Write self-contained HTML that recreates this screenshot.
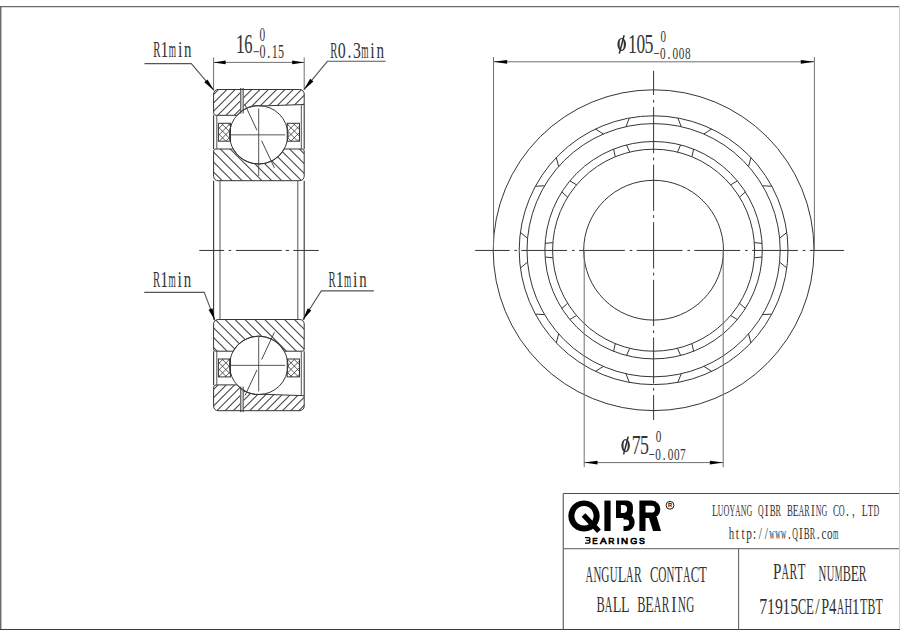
<!DOCTYPE html><html><head><meta charset="utf-8"><style>html,body{margin:0;padding:0;background:#fff;}svg{display:block;}</style></head><body><svg width="900" height="636" viewBox="0 0 900 636"><rect width="900" height="636" fill="#fff"/><defs><clipPath id="cot"><path d="M213.6,94 A4.5,4.5 0 0 1 218.1,89.5 L299.7,89.5 A4.5,4.5 0 0 1 304.2,94 L304.2,104.5 L262.87,105.95 A29.2,29.2 0 0 0 237.01,115.3 L216.1,115.3 A2.5,2.5 0 0 1 213.6,112.8 Z"/></clipPath><clipPath id="cit"><path d="M213.6,151 A2,2 0 0 1 215.6,149 L233.16,149 A29.2,29.2 0 0 0 284.24,149 L302.2,149 A2,2 0 0 1 304.2,151 L304.2,176.2 A4.5,4.5 0 0 1 299.7,180.7 L218.1,180.7 A4.5,4.5 0 0 1 213.6,176.2 Z"/></clipPath><clipPath id="pkt218"><rect x="218.4" y="123.3" width="12.1" height="17.9"/></clipPath><clipPath id="pkt287"><rect x="287.2" y="123.3" width="12.3" height="17.9"/></clipPath><clipPath id="cob"><path d="M213.6,406.2 A4.5,4.5 0 0 0 218.1,410.7 L299.7,410.7 A4.5,4.5 0 0 0 304.2,406.2 L304.2,395.7 L262.87,394.25 A29.2,29.2 0 0 1 237.01,384.9 L216.1,384.9 A2.5,2.5 0 0 0 213.6,387.4 Z"/></clipPath><clipPath id="cib"><path d="M213.6,349.2 A2,2 0 0 0 215.6,351.2 L233.16,351.2 A29.2,29.2 0 0 1 284.24,351.2 L302.2,351.2 A2,2 0 0 0 304.2,349.2 L304.2,324 A4.5,4.5 0 0 0 299.7,319.5 L218.1,319.5 A4.5,4.5 0 0 0 213.6,324 Z"/></clipPath><clipPath id="pkb218"><rect x="218.4" y="359" width="12.1" height="17.9"/></clipPath><clipPath id="pkb287"><rect x="287.2" y="359" width="12.3" height="17.9"/></clipPath></defs><line x1="0" y1="6.7" x2="900" y2="6.7" stroke="#6a6a6a" stroke-width="1.2"/><line x1="0.7" y1="6.1" x2="0.7" y2="629.5" stroke="#6c6c6c" stroke-width="1.5"/><line x1="899.5" y1="6.1" x2="899.5" y2="629" stroke="#cfcfcf" stroke-width="1"/><line x1="0" y1="629.5" x2="900" y2="629.5" stroke="#3a3a3a" stroke-width="1.2"/><g clip-path="url(#cot)"><line x1="198.2" y1="85" x2="163.2" y2="120" stroke="#454545" stroke-width="1.05"/><line x1="206.5" y1="85" x2="171.5" y2="120" stroke="#454545" stroke-width="1.05"/><line x1="214.8" y1="85" x2="179.8" y2="120" stroke="#454545" stroke-width="1.05"/><line x1="223.1" y1="85" x2="188.1" y2="120" stroke="#454545" stroke-width="1.05"/><line x1="231.4" y1="85" x2="196.4" y2="120" stroke="#454545" stroke-width="1.05"/><line x1="239.7" y1="85" x2="204.7" y2="120" stroke="#454545" stroke-width="1.05"/><line x1="248" y1="85" x2="213" y2="120" stroke="#454545" stroke-width="1.05"/><line x1="256.3" y1="85" x2="221.3" y2="120" stroke="#454545" stroke-width="1.05"/><line x1="264.6" y1="85" x2="229.6" y2="120" stroke="#454545" stroke-width="1.05"/><line x1="272.9" y1="85" x2="237.9" y2="120" stroke="#454545" stroke-width="1.05"/><line x1="281.2" y1="85" x2="246.2" y2="120" stroke="#454545" stroke-width="1.05"/><line x1="289.5" y1="85" x2="254.5" y2="120" stroke="#454545" stroke-width="1.05"/><line x1="297.8" y1="85" x2="262.8" y2="120" stroke="#454545" stroke-width="1.05"/><line x1="306.1" y1="85" x2="271.1" y2="120" stroke="#454545" stroke-width="1.05"/><line x1="314.4" y1="85" x2="279.4" y2="120" stroke="#454545" stroke-width="1.05"/><line x1="322.7" y1="85" x2="287.7" y2="120" stroke="#454545" stroke-width="1.05"/><line x1="331" y1="85" x2="296" y2="120" stroke="#454545" stroke-width="1.05"/><line x1="339.3" y1="85" x2="304.3" y2="120" stroke="#454545" stroke-width="1.05"/></g><g clip-path="url(#cit)"><line x1="315.3" y1="145" x2="355.3" y2="185" stroke="#454545" stroke-width="1.05"/><line x1="305.4" y1="145" x2="345.4" y2="185" stroke="#454545" stroke-width="1.05"/><line x1="295.5" y1="145" x2="335.5" y2="185" stroke="#454545" stroke-width="1.05"/><line x1="285.6" y1="145" x2="325.6" y2="185" stroke="#454545" stroke-width="1.05"/><line x1="275.7" y1="145" x2="315.7" y2="185" stroke="#454545" stroke-width="1.05"/><line x1="265.8" y1="145" x2="305.8" y2="185" stroke="#454545" stroke-width="1.05"/><line x1="255.9" y1="145" x2="295.9" y2="185" stroke="#454545" stroke-width="1.05"/><line x1="246" y1="145" x2="286" y2="185" stroke="#454545" stroke-width="1.05"/><line x1="236.1" y1="145" x2="276.1" y2="185" stroke="#454545" stroke-width="1.05"/><line x1="226.2" y1="145" x2="266.2" y2="185" stroke="#454545" stroke-width="1.05"/><line x1="216.3" y1="145" x2="256.3" y2="185" stroke="#454545" stroke-width="1.05"/><line x1="206.4" y1="145" x2="246.4" y2="185" stroke="#454545" stroke-width="1.05"/><line x1="196.5" y1="145" x2="236.5" y2="185" stroke="#454545" stroke-width="1.05"/><line x1="186.6" y1="145" x2="226.6" y2="185" stroke="#454545" stroke-width="1.05"/><line x1="176.7" y1="145" x2="216.7" y2="185" stroke="#454545" stroke-width="1.05"/><line x1="166.8" y1="145" x2="206.8" y2="185" stroke="#454545" stroke-width="1.05"/></g><rect x="240.3" y="88" width="3.2" height="25.5" fill="#fff"/><rect x="240.3" y="88" width="3.2" height="25.5" fill="#c8c8c8"/><line x1="240.6" y1="88" x2="240.6" y2="113.5" stroke="#555" stroke-width="0.9"/><line x1="243.3" y1="88" x2="243.3" y2="113.5" stroke="#555" stroke-width="0.9"/><path d="M213.6,94 A4.5,4.5 0 0 1 218.1,89.5 L299.7,89.5 A4.5,4.5 0 0 1 304.2,94 L304.2,104.5 L262.87,105.95 A29.2,29.2 0 0 0 237.01,115.3 L216.1,115.3 A2.5,2.5 0 0 1 213.6,112.8 Z" fill="none" stroke="#353535" stroke-width="1"/><path d="M213.6,151 A2,2 0 0 1 215.6,149 L233.16,149 A29.2,29.2 0 0 0 284.24,149 L302.2,149 A2,2 0 0 1 304.2,151 L304.2,176.2 A4.5,4.5 0 0 1 299.7,180.7 L218.1,180.7 A4.5,4.5 0 0 1 213.6,176.2 Z" fill="none" stroke="#353535" stroke-width="1"/><circle cx="258.7" cy="134.85" r="29.2" fill="none" stroke="#353535" stroke-width="1"/><line x1="213.6" y1="115.3" x2="213.6" y2="149" stroke="#353535" stroke-width="1.1"/><line x1="304.2" y1="104.5" x2="304.2" y2="149" stroke="#353535" stroke-width="1.1"/><line x1="216.8" y1="115.3" x2="216.8" y2="149" stroke="#555" stroke-width="1"/><line x1="301.3" y1="104.5" x2="301.3" y2="149" stroke="#555" stroke-width="1"/><g clip-path="url(#pkt218)"><line x1="144.7" y1="123.3" x2="126.8" y2="141.2" stroke="#353535" stroke-width="0.8"/><line x1="300.4" y1="123.3" x2="318.3" y2="141.2" stroke="#353535" stroke-width="0.8"/><line x1="151.3" y1="123.3" x2="133.4" y2="141.2" stroke="#353535" stroke-width="0.8"/><line x1="293.8" y1="123.3" x2="311.7" y2="141.2" stroke="#353535" stroke-width="0.8"/><line x1="157.9" y1="123.3" x2="140" y2="141.2" stroke="#353535" stroke-width="0.8"/><line x1="287.2" y1="123.3" x2="305.1" y2="141.2" stroke="#353535" stroke-width="0.8"/><line x1="164.5" y1="123.3" x2="146.6" y2="141.2" stroke="#353535" stroke-width="0.8"/><line x1="280.6" y1="123.3" x2="298.5" y2="141.2" stroke="#353535" stroke-width="0.8"/><line x1="171.1" y1="123.3" x2="153.2" y2="141.2" stroke="#353535" stroke-width="0.8"/><line x1="274" y1="123.3" x2="291.9" y2="141.2" stroke="#353535" stroke-width="0.8"/><line x1="177.7" y1="123.3" x2="159.8" y2="141.2" stroke="#353535" stroke-width="0.8"/><line x1="267.4" y1="123.3" x2="285.3" y2="141.2" stroke="#353535" stroke-width="0.8"/><line x1="184.3" y1="123.3" x2="166.4" y2="141.2" stroke="#353535" stroke-width="0.8"/><line x1="260.8" y1="123.3" x2="278.7" y2="141.2" stroke="#353535" stroke-width="0.8"/><line x1="190.9" y1="123.3" x2="173" y2="141.2" stroke="#353535" stroke-width="0.8"/><line x1="254.2" y1="123.3" x2="272.1" y2="141.2" stroke="#353535" stroke-width="0.8"/><line x1="197.5" y1="123.3" x2="179.6" y2="141.2" stroke="#353535" stroke-width="0.8"/><line x1="247.6" y1="123.3" x2="265.5" y2="141.2" stroke="#353535" stroke-width="0.8"/><line x1="204.1" y1="123.3" x2="186.2" y2="141.2" stroke="#353535" stroke-width="0.8"/><line x1="241" y1="123.3" x2="258.9" y2="141.2" stroke="#353535" stroke-width="0.8"/><line x1="210.7" y1="123.3" x2="192.8" y2="141.2" stroke="#353535" stroke-width="0.8"/><line x1="234.4" y1="123.3" x2="252.3" y2="141.2" stroke="#353535" stroke-width="0.8"/><line x1="217.3" y1="123.3" x2="199.4" y2="141.2" stroke="#353535" stroke-width="0.8"/><line x1="227.8" y1="123.3" x2="245.7" y2="141.2" stroke="#353535" stroke-width="0.8"/><line x1="223.9" y1="123.3" x2="206" y2="141.2" stroke="#353535" stroke-width="0.8"/><line x1="221.2" y1="123.3" x2="239.1" y2="141.2" stroke="#353535" stroke-width="0.8"/><line x1="230.5" y1="123.3" x2="212.6" y2="141.2" stroke="#353535" stroke-width="0.8"/><line x1="214.6" y1="123.3" x2="232.5" y2="141.2" stroke="#353535" stroke-width="0.8"/><line x1="237.1" y1="123.3" x2="219.2" y2="141.2" stroke="#353535" stroke-width="0.8"/><line x1="208" y1="123.3" x2="225.9" y2="141.2" stroke="#353535" stroke-width="0.8"/><line x1="243.7" y1="123.3" x2="225.8" y2="141.2" stroke="#353535" stroke-width="0.8"/><line x1="201.4" y1="123.3" x2="219.3" y2="141.2" stroke="#353535" stroke-width="0.8"/><line x1="250.3" y1="123.3" x2="232.4" y2="141.2" stroke="#353535" stroke-width="0.8"/><line x1="194.8" y1="123.3" x2="212.7" y2="141.2" stroke="#353535" stroke-width="0.8"/><line x1="256.9" y1="123.3" x2="239" y2="141.2" stroke="#353535" stroke-width="0.8"/><line x1="188.2" y1="123.3" x2="206.1" y2="141.2" stroke="#353535" stroke-width="0.8"/><line x1="263.5" y1="123.3" x2="245.6" y2="141.2" stroke="#353535" stroke-width="0.8"/><line x1="181.6" y1="123.3" x2="199.5" y2="141.2" stroke="#353535" stroke-width="0.8"/><line x1="270.1" y1="123.3" x2="252.2" y2="141.2" stroke="#353535" stroke-width="0.8"/><line x1="175" y1="123.3" x2="192.9" y2="141.2" stroke="#353535" stroke-width="0.8"/><line x1="276.7" y1="123.3" x2="258.8" y2="141.2" stroke="#353535" stroke-width="0.8"/><line x1="168.4" y1="123.3" x2="186.3" y2="141.2" stroke="#353535" stroke-width="0.8"/><line x1="283.3" y1="123.3" x2="265.4" y2="141.2" stroke="#353535" stroke-width="0.8"/><line x1="161.8" y1="123.3" x2="179.7" y2="141.2" stroke="#353535" stroke-width="0.8"/><line x1="289.9" y1="123.3" x2="272" y2="141.2" stroke="#353535" stroke-width="0.8"/><line x1="155.2" y1="123.3" x2="173.1" y2="141.2" stroke="#353535" stroke-width="0.8"/><line x1="296.5" y1="123.3" x2="278.6" y2="141.2" stroke="#353535" stroke-width="0.8"/><line x1="148.6" y1="123.3" x2="166.5" y2="141.2" stroke="#353535" stroke-width="0.8"/><line x1="303.1" y1="123.3" x2="285.2" y2="141.2" stroke="#353535" stroke-width="0.8"/><line x1="142" y1="123.3" x2="159.9" y2="141.2" stroke="#353535" stroke-width="0.8"/><circle cx="258.7" cy="134.85" r="29.2" fill="#fff" stroke="#353535" stroke-width="1"/></g><rect x="218.4" y="123.3" width="12.1" height="17.9" fill="none" stroke="#353535" stroke-width="1"/><g clip-path="url(#pkt287)"><line x1="216.3" y1="123.3" x2="198.4" y2="141.2" stroke="#353535" stroke-width="0.8"/><line x1="372.3" y1="123.3" x2="390.2" y2="141.2" stroke="#353535" stroke-width="0.8"/><line x1="222.9" y1="123.3" x2="205" y2="141.2" stroke="#353535" stroke-width="0.8"/><line x1="365.7" y1="123.3" x2="383.6" y2="141.2" stroke="#353535" stroke-width="0.8"/><line x1="229.5" y1="123.3" x2="211.6" y2="141.2" stroke="#353535" stroke-width="0.8"/><line x1="359.1" y1="123.3" x2="377" y2="141.2" stroke="#353535" stroke-width="0.8"/><line x1="236.1" y1="123.3" x2="218.2" y2="141.2" stroke="#353535" stroke-width="0.8"/><line x1="352.5" y1="123.3" x2="370.4" y2="141.2" stroke="#353535" stroke-width="0.8"/><line x1="242.7" y1="123.3" x2="224.8" y2="141.2" stroke="#353535" stroke-width="0.8"/><line x1="345.9" y1="123.3" x2="363.8" y2="141.2" stroke="#353535" stroke-width="0.8"/><line x1="249.3" y1="123.3" x2="231.4" y2="141.2" stroke="#353535" stroke-width="0.8"/><line x1="339.3" y1="123.3" x2="357.2" y2="141.2" stroke="#353535" stroke-width="0.8"/><line x1="255.9" y1="123.3" x2="238" y2="141.2" stroke="#353535" stroke-width="0.8"/><line x1="332.7" y1="123.3" x2="350.6" y2="141.2" stroke="#353535" stroke-width="0.8"/><line x1="262.5" y1="123.3" x2="244.6" y2="141.2" stroke="#353535" stroke-width="0.8"/><line x1="326.1" y1="123.3" x2="344" y2="141.2" stroke="#353535" stroke-width="0.8"/><line x1="269.1" y1="123.3" x2="251.2" y2="141.2" stroke="#353535" stroke-width="0.8"/><line x1="319.5" y1="123.3" x2="337.4" y2="141.2" stroke="#353535" stroke-width="0.8"/><line x1="275.7" y1="123.3" x2="257.8" y2="141.2" stroke="#353535" stroke-width="0.8"/><line x1="312.9" y1="123.3" x2="330.8" y2="141.2" stroke="#353535" stroke-width="0.8"/><line x1="282.3" y1="123.3" x2="264.4" y2="141.2" stroke="#353535" stroke-width="0.8"/><line x1="306.3" y1="123.3" x2="324.2" y2="141.2" stroke="#353535" stroke-width="0.8"/><line x1="288.9" y1="123.3" x2="271" y2="141.2" stroke="#353535" stroke-width="0.8"/><line x1="299.7" y1="123.3" x2="317.6" y2="141.2" stroke="#353535" stroke-width="0.8"/><line x1="295.5" y1="123.3" x2="277.6" y2="141.2" stroke="#353535" stroke-width="0.8"/><line x1="293.1" y1="123.3" x2="311" y2="141.2" stroke="#353535" stroke-width="0.8"/><line x1="302.1" y1="123.3" x2="284.2" y2="141.2" stroke="#353535" stroke-width="0.8"/><line x1="286.5" y1="123.3" x2="304.4" y2="141.2" stroke="#353535" stroke-width="0.8"/><line x1="308.7" y1="123.3" x2="290.8" y2="141.2" stroke="#353535" stroke-width="0.8"/><line x1="279.9" y1="123.3" x2="297.8" y2="141.2" stroke="#353535" stroke-width="0.8"/><line x1="315.3" y1="123.3" x2="297.4" y2="141.2" stroke="#353535" stroke-width="0.8"/><line x1="273.3" y1="123.3" x2="291.2" y2="141.2" stroke="#353535" stroke-width="0.8"/><line x1="321.9" y1="123.3" x2="304" y2="141.2" stroke="#353535" stroke-width="0.8"/><line x1="266.7" y1="123.3" x2="284.6" y2="141.2" stroke="#353535" stroke-width="0.8"/><line x1="328.5" y1="123.3" x2="310.6" y2="141.2" stroke="#353535" stroke-width="0.8"/><line x1="260.1" y1="123.3" x2="278" y2="141.2" stroke="#353535" stroke-width="0.8"/><line x1="335.1" y1="123.3" x2="317.2" y2="141.2" stroke="#353535" stroke-width="0.8"/><line x1="253.5" y1="123.3" x2="271.4" y2="141.2" stroke="#353535" stroke-width="0.8"/><line x1="341.7" y1="123.3" x2="323.8" y2="141.2" stroke="#353535" stroke-width="0.8"/><line x1="246.9" y1="123.3" x2="264.8" y2="141.2" stroke="#353535" stroke-width="0.8"/><line x1="348.3" y1="123.3" x2="330.4" y2="141.2" stroke="#353535" stroke-width="0.8"/><line x1="240.3" y1="123.3" x2="258.2" y2="141.2" stroke="#353535" stroke-width="0.8"/><line x1="354.9" y1="123.3" x2="337" y2="141.2" stroke="#353535" stroke-width="0.8"/><line x1="233.7" y1="123.3" x2="251.6" y2="141.2" stroke="#353535" stroke-width="0.8"/><line x1="361.5" y1="123.3" x2="343.6" y2="141.2" stroke="#353535" stroke-width="0.8"/><line x1="227.1" y1="123.3" x2="245" y2="141.2" stroke="#353535" stroke-width="0.8"/><line x1="368.1" y1="123.3" x2="350.2" y2="141.2" stroke="#353535" stroke-width="0.8"/><line x1="220.5" y1="123.3" x2="238.4" y2="141.2" stroke="#353535" stroke-width="0.8"/><line x1="374.7" y1="123.3" x2="356.8" y2="141.2" stroke="#353535" stroke-width="0.8"/><line x1="213.9" y1="123.3" x2="231.8" y2="141.2" stroke="#353535" stroke-width="0.8"/><circle cx="258.7" cy="134.85" r="29.2" fill="#fff" stroke="#353535" stroke-width="1"/></g><rect x="287.2" y="123.3" width="12.3" height="17.9" fill="none" stroke="#353535" stroke-width="1"/><line x1="230.8" y1="134.85" x2="285.1" y2="134.85" stroke="#444" stroke-width="0.9"/><line x1="258.7" y1="108.5" x2="258.7" y2="176" stroke="#444" stroke-width="0.9"/><line x1="245" y1="104.7" x2="257" y2="130.3" stroke="#353535" stroke-width="0.9"/><line x1="261.6" y1="140.6" x2="274.4" y2="167.9" stroke="#353535" stroke-width="0.9"/><g clip-path="url(#cob)"><line x1="198.2" y1="380.2" x2="163.2" y2="415.2" stroke="#454545" stroke-width="1.05"/><line x1="206.4" y1="380.2" x2="171.4" y2="415.2" stroke="#454545" stroke-width="1.05"/><line x1="214.6" y1="380.2" x2="179.6" y2="415.2" stroke="#454545" stroke-width="1.05"/><line x1="222.8" y1="380.2" x2="187.8" y2="415.2" stroke="#454545" stroke-width="1.05"/><line x1="231" y1="380.2" x2="196" y2="415.2" stroke="#454545" stroke-width="1.05"/><line x1="239.2" y1="380.2" x2="204.2" y2="415.2" stroke="#454545" stroke-width="1.05"/><line x1="247.4" y1="380.2" x2="212.4" y2="415.2" stroke="#454545" stroke-width="1.05"/><line x1="255.6" y1="380.2" x2="220.6" y2="415.2" stroke="#454545" stroke-width="1.05"/><line x1="263.8" y1="380.2" x2="228.8" y2="415.2" stroke="#454545" stroke-width="1.05"/><line x1="272" y1="380.2" x2="237" y2="415.2" stroke="#454545" stroke-width="1.05"/><line x1="280.2" y1="380.2" x2="245.2" y2="415.2" stroke="#454545" stroke-width="1.05"/><line x1="288.4" y1="380.2" x2="253.4" y2="415.2" stroke="#454545" stroke-width="1.05"/><line x1="296.6" y1="380.2" x2="261.6" y2="415.2" stroke="#454545" stroke-width="1.05"/><line x1="304.8" y1="380.2" x2="269.8" y2="415.2" stroke="#454545" stroke-width="1.05"/><line x1="313" y1="380.2" x2="278" y2="415.2" stroke="#454545" stroke-width="1.05"/><line x1="321.2" y1="380.2" x2="286.2" y2="415.2" stroke="#454545" stroke-width="1.05"/><line x1="329.4" y1="380.2" x2="294.4" y2="415.2" stroke="#454545" stroke-width="1.05"/><line x1="337.6" y1="380.2" x2="302.6" y2="415.2" stroke="#454545" stroke-width="1.05"/></g><g clip-path="url(#cib)"><line x1="319.8" y1="315.2" x2="359.8" y2="355.2" stroke="#454545" stroke-width="1.05"/><line x1="309.9" y1="315.2" x2="349.9" y2="355.2" stroke="#454545" stroke-width="1.05"/><line x1="300" y1="315.2" x2="340" y2="355.2" stroke="#454545" stroke-width="1.05"/><line x1="290.1" y1="315.2" x2="330.1" y2="355.2" stroke="#454545" stroke-width="1.05"/><line x1="280.2" y1="315.2" x2="320.2" y2="355.2" stroke="#454545" stroke-width="1.05"/><line x1="270.3" y1="315.2" x2="310.3" y2="355.2" stroke="#454545" stroke-width="1.05"/><line x1="260.4" y1="315.2" x2="300.4" y2="355.2" stroke="#454545" stroke-width="1.05"/><line x1="250.5" y1="315.2" x2="290.5" y2="355.2" stroke="#454545" stroke-width="1.05"/><line x1="240.6" y1="315.2" x2="280.6" y2="355.2" stroke="#454545" stroke-width="1.05"/><line x1="230.7" y1="315.2" x2="270.7" y2="355.2" stroke="#454545" stroke-width="1.05"/><line x1="220.8" y1="315.2" x2="260.8" y2="355.2" stroke="#454545" stroke-width="1.05"/><line x1="210.9" y1="315.2" x2="250.9" y2="355.2" stroke="#454545" stroke-width="1.05"/><line x1="201" y1="315.2" x2="241" y2="355.2" stroke="#454545" stroke-width="1.05"/><line x1="191.1" y1="315.2" x2="231.1" y2="355.2" stroke="#454545" stroke-width="1.05"/><line x1="181.2" y1="315.2" x2="221.2" y2="355.2" stroke="#454545" stroke-width="1.05"/><line x1="171.3" y1="315.2" x2="211.3" y2="355.2" stroke="#454545" stroke-width="1.05"/></g><rect x="240.3" y="386.7" width="3.2" height="25.5" fill="#fff"/><rect x="240.3" y="386.7" width="3.2" height="25.5" fill="#c8c8c8"/><line x1="240.6" y1="386.7" x2="240.6" y2="412.2" stroke="#555" stroke-width="0.9"/><line x1="243.3" y1="386.7" x2="243.3" y2="412.2" stroke="#555" stroke-width="0.9"/><path d="M213.6,406.2 A4.5,4.5 0 0 0 218.1,410.7 L299.7,410.7 A4.5,4.5 0 0 0 304.2,406.2 L304.2,395.7 L262.87,394.25 A29.2,29.2 0 0 1 237.01,384.9 L216.1,384.9 A2.5,2.5 0 0 0 213.6,387.4 Z" fill="none" stroke="#353535" stroke-width="1"/><path d="M213.6,349.2 A2,2 0 0 0 215.6,351.2 L233.16,351.2 A29.2,29.2 0 0 1 284.24,351.2 L302.2,351.2 A2,2 0 0 0 304.2,349.2 L304.2,324 A4.5,4.5 0 0 0 299.7,319.5 L218.1,319.5 A4.5,4.5 0 0 0 213.6,324 Z" fill="none" stroke="#353535" stroke-width="1"/><circle cx="258.7" cy="365.35" r="29.2" fill="none" stroke="#353535" stroke-width="1"/><line x1="213.6" y1="384.9" x2="213.6" y2="351.2" stroke="#353535" stroke-width="1.1"/><line x1="304.2" y1="395.7" x2="304.2" y2="351.2" stroke="#353535" stroke-width="1.1"/><line x1="216.8" y1="384.9" x2="216.8" y2="351.2" stroke="#555" stroke-width="1"/><line x1="301.3" y1="395.7" x2="301.3" y2="351.2" stroke="#555" stroke-width="1"/><g clip-path="url(#pkb218)"><line x1="144" y1="359" x2="126.1" y2="376.9" stroke="#353535" stroke-width="0.8"/><line x1="301.1" y1="359" x2="319" y2="376.9" stroke="#353535" stroke-width="0.8"/><line x1="150.6" y1="359" x2="132.7" y2="376.9" stroke="#353535" stroke-width="0.8"/><line x1="294.5" y1="359" x2="312.4" y2="376.9" stroke="#353535" stroke-width="0.8"/><line x1="157.2" y1="359" x2="139.3" y2="376.9" stroke="#353535" stroke-width="0.8"/><line x1="287.9" y1="359" x2="305.8" y2="376.9" stroke="#353535" stroke-width="0.8"/><line x1="163.8" y1="359" x2="145.9" y2="376.9" stroke="#353535" stroke-width="0.8"/><line x1="281.3" y1="359" x2="299.2" y2="376.9" stroke="#353535" stroke-width="0.8"/><line x1="170.4" y1="359" x2="152.5" y2="376.9" stroke="#353535" stroke-width="0.8"/><line x1="274.7" y1="359" x2="292.6" y2="376.9" stroke="#353535" stroke-width="0.8"/><line x1="177" y1="359" x2="159.1" y2="376.9" stroke="#353535" stroke-width="0.8"/><line x1="268.1" y1="359" x2="286" y2="376.9" stroke="#353535" stroke-width="0.8"/><line x1="183.6" y1="359" x2="165.7" y2="376.9" stroke="#353535" stroke-width="0.8"/><line x1="261.5" y1="359" x2="279.4" y2="376.9" stroke="#353535" stroke-width="0.8"/><line x1="190.2" y1="359" x2="172.3" y2="376.9" stroke="#353535" stroke-width="0.8"/><line x1="254.9" y1="359" x2="272.8" y2="376.9" stroke="#353535" stroke-width="0.8"/><line x1="196.8" y1="359" x2="178.9" y2="376.9" stroke="#353535" stroke-width="0.8"/><line x1="248.3" y1="359" x2="266.2" y2="376.9" stroke="#353535" stroke-width="0.8"/><line x1="203.4" y1="359" x2="185.5" y2="376.9" stroke="#353535" stroke-width="0.8"/><line x1="241.7" y1="359" x2="259.6" y2="376.9" stroke="#353535" stroke-width="0.8"/><line x1="210" y1="359" x2="192.1" y2="376.9" stroke="#353535" stroke-width="0.8"/><line x1="235.1" y1="359" x2="253" y2="376.9" stroke="#353535" stroke-width="0.8"/><line x1="216.6" y1="359" x2="198.7" y2="376.9" stroke="#353535" stroke-width="0.8"/><line x1="228.5" y1="359" x2="246.4" y2="376.9" stroke="#353535" stroke-width="0.8"/><line x1="223.2" y1="359" x2="205.3" y2="376.9" stroke="#353535" stroke-width="0.8"/><line x1="221.9" y1="359" x2="239.8" y2="376.9" stroke="#353535" stroke-width="0.8"/><line x1="229.8" y1="359" x2="211.9" y2="376.9" stroke="#353535" stroke-width="0.8"/><line x1="215.3" y1="359" x2="233.2" y2="376.9" stroke="#353535" stroke-width="0.8"/><line x1="236.4" y1="359" x2="218.5" y2="376.9" stroke="#353535" stroke-width="0.8"/><line x1="208.7" y1="359" x2="226.6" y2="376.9" stroke="#353535" stroke-width="0.8"/><line x1="243" y1="359" x2="225.1" y2="376.9" stroke="#353535" stroke-width="0.8"/><line x1="202.1" y1="359" x2="220" y2="376.9" stroke="#353535" stroke-width="0.8"/><line x1="249.6" y1="359" x2="231.7" y2="376.9" stroke="#353535" stroke-width="0.8"/><line x1="195.5" y1="359" x2="213.4" y2="376.9" stroke="#353535" stroke-width="0.8"/><line x1="256.2" y1="359" x2="238.3" y2="376.9" stroke="#353535" stroke-width="0.8"/><line x1="188.9" y1="359" x2="206.8" y2="376.9" stroke="#353535" stroke-width="0.8"/><line x1="262.8" y1="359" x2="244.9" y2="376.9" stroke="#353535" stroke-width="0.8"/><line x1="182.3" y1="359" x2="200.2" y2="376.9" stroke="#353535" stroke-width="0.8"/><line x1="269.4" y1="359" x2="251.5" y2="376.9" stroke="#353535" stroke-width="0.8"/><line x1="175.7" y1="359" x2="193.6" y2="376.9" stroke="#353535" stroke-width="0.8"/><line x1="276" y1="359" x2="258.1" y2="376.9" stroke="#353535" stroke-width="0.8"/><line x1="169.1" y1="359" x2="187" y2="376.9" stroke="#353535" stroke-width="0.8"/><line x1="282.6" y1="359" x2="264.7" y2="376.9" stroke="#353535" stroke-width="0.8"/><line x1="162.5" y1="359" x2="180.4" y2="376.9" stroke="#353535" stroke-width="0.8"/><line x1="289.2" y1="359" x2="271.3" y2="376.9" stroke="#353535" stroke-width="0.8"/><line x1="155.9" y1="359" x2="173.8" y2="376.9" stroke="#353535" stroke-width="0.8"/><line x1="295.8" y1="359" x2="277.9" y2="376.9" stroke="#353535" stroke-width="0.8"/><line x1="149.3" y1="359" x2="167.2" y2="376.9" stroke="#353535" stroke-width="0.8"/><line x1="302.4" y1="359" x2="284.5" y2="376.9" stroke="#353535" stroke-width="0.8"/><line x1="142.7" y1="359" x2="160.6" y2="376.9" stroke="#353535" stroke-width="0.8"/><circle cx="258.7" cy="365.35" r="29.2" fill="#fff" stroke="#353535" stroke-width="1"/></g><rect x="218.4" y="359" width="12.1" height="17.9" fill="none" stroke="#353535" stroke-width="1"/><g clip-path="url(#pkb287)"><line x1="215.6" y1="359" x2="197.7" y2="376.9" stroke="#353535" stroke-width="0.8"/><line x1="373" y1="359" x2="390.9" y2="376.9" stroke="#353535" stroke-width="0.8"/><line x1="222.2" y1="359" x2="204.3" y2="376.9" stroke="#353535" stroke-width="0.8"/><line x1="366.4" y1="359" x2="384.3" y2="376.9" stroke="#353535" stroke-width="0.8"/><line x1="228.8" y1="359" x2="210.9" y2="376.9" stroke="#353535" stroke-width="0.8"/><line x1="359.8" y1="359" x2="377.7" y2="376.9" stroke="#353535" stroke-width="0.8"/><line x1="235.4" y1="359" x2="217.5" y2="376.9" stroke="#353535" stroke-width="0.8"/><line x1="353.2" y1="359" x2="371.1" y2="376.9" stroke="#353535" stroke-width="0.8"/><line x1="242" y1="359" x2="224.1" y2="376.9" stroke="#353535" stroke-width="0.8"/><line x1="346.6" y1="359" x2="364.5" y2="376.9" stroke="#353535" stroke-width="0.8"/><line x1="248.6" y1="359" x2="230.7" y2="376.9" stroke="#353535" stroke-width="0.8"/><line x1="340" y1="359" x2="357.9" y2="376.9" stroke="#353535" stroke-width="0.8"/><line x1="255.2" y1="359" x2="237.3" y2="376.9" stroke="#353535" stroke-width="0.8"/><line x1="333.4" y1="359" x2="351.3" y2="376.9" stroke="#353535" stroke-width="0.8"/><line x1="261.8" y1="359" x2="243.9" y2="376.9" stroke="#353535" stroke-width="0.8"/><line x1="326.8" y1="359" x2="344.7" y2="376.9" stroke="#353535" stroke-width="0.8"/><line x1="268.4" y1="359" x2="250.5" y2="376.9" stroke="#353535" stroke-width="0.8"/><line x1="320.2" y1="359" x2="338.1" y2="376.9" stroke="#353535" stroke-width="0.8"/><line x1="275" y1="359" x2="257.1" y2="376.9" stroke="#353535" stroke-width="0.8"/><line x1="313.6" y1="359" x2="331.5" y2="376.9" stroke="#353535" stroke-width="0.8"/><line x1="281.6" y1="359" x2="263.7" y2="376.9" stroke="#353535" stroke-width="0.8"/><line x1="307" y1="359" x2="324.9" y2="376.9" stroke="#353535" stroke-width="0.8"/><line x1="288.2" y1="359" x2="270.3" y2="376.9" stroke="#353535" stroke-width="0.8"/><line x1="300.4" y1="359" x2="318.3" y2="376.9" stroke="#353535" stroke-width="0.8"/><line x1="294.8" y1="359" x2="276.9" y2="376.9" stroke="#353535" stroke-width="0.8"/><line x1="293.8" y1="359" x2="311.7" y2="376.9" stroke="#353535" stroke-width="0.8"/><line x1="301.4" y1="359" x2="283.5" y2="376.9" stroke="#353535" stroke-width="0.8"/><line x1="287.2" y1="359" x2="305.1" y2="376.9" stroke="#353535" stroke-width="0.8"/><line x1="308" y1="359" x2="290.1" y2="376.9" stroke="#353535" stroke-width="0.8"/><line x1="280.6" y1="359" x2="298.5" y2="376.9" stroke="#353535" stroke-width="0.8"/><line x1="314.6" y1="359" x2="296.7" y2="376.9" stroke="#353535" stroke-width="0.8"/><line x1="274" y1="359" x2="291.9" y2="376.9" stroke="#353535" stroke-width="0.8"/><line x1="321.2" y1="359" x2="303.3" y2="376.9" stroke="#353535" stroke-width="0.8"/><line x1="267.4" y1="359" x2="285.3" y2="376.9" stroke="#353535" stroke-width="0.8"/><line x1="327.8" y1="359" x2="309.9" y2="376.9" stroke="#353535" stroke-width="0.8"/><line x1="260.8" y1="359" x2="278.7" y2="376.9" stroke="#353535" stroke-width="0.8"/><line x1="334.4" y1="359" x2="316.5" y2="376.9" stroke="#353535" stroke-width="0.8"/><line x1="254.2" y1="359" x2="272.1" y2="376.9" stroke="#353535" stroke-width="0.8"/><line x1="341" y1="359" x2="323.1" y2="376.9" stroke="#353535" stroke-width="0.8"/><line x1="247.6" y1="359" x2="265.5" y2="376.9" stroke="#353535" stroke-width="0.8"/><line x1="347.6" y1="359" x2="329.7" y2="376.9" stroke="#353535" stroke-width="0.8"/><line x1="241" y1="359" x2="258.9" y2="376.9" stroke="#353535" stroke-width="0.8"/><line x1="354.2" y1="359" x2="336.3" y2="376.9" stroke="#353535" stroke-width="0.8"/><line x1="234.4" y1="359" x2="252.3" y2="376.9" stroke="#353535" stroke-width="0.8"/><line x1="360.8" y1="359" x2="342.9" y2="376.9" stroke="#353535" stroke-width="0.8"/><line x1="227.8" y1="359" x2="245.7" y2="376.9" stroke="#353535" stroke-width="0.8"/><line x1="367.4" y1="359" x2="349.5" y2="376.9" stroke="#353535" stroke-width="0.8"/><line x1="221.2" y1="359" x2="239.1" y2="376.9" stroke="#353535" stroke-width="0.8"/><line x1="374" y1="359" x2="356.1" y2="376.9" stroke="#353535" stroke-width="0.8"/><line x1="214.6" y1="359" x2="232.5" y2="376.9" stroke="#353535" stroke-width="0.8"/><circle cx="258.7" cy="365.35" r="29.2" fill="#fff" stroke="#353535" stroke-width="1"/></g><rect x="287.2" y="359" width="12.3" height="17.9" fill="none" stroke="#353535" stroke-width="1"/><line x1="230.8" y1="365.35" x2="285.1" y2="365.35" stroke="#444" stroke-width="0.9"/><line x1="258.7" y1="337" x2="258.7" y2="391.4" stroke="#444" stroke-width="0.9"/><line x1="245" y1="395.5" x2="257" y2="369.9" stroke="#353535" stroke-width="0.9"/><line x1="261.6" y1="359.6" x2="274.4" y2="332.3" stroke="#353535" stroke-width="0.9"/><line x1="213.6" y1="180.7" x2="213.6" y2="319.5" stroke="#353535" stroke-width="1.1"/><line x1="304.2" y1="180.7" x2="304.2" y2="319.5" stroke="#353535" stroke-width="1.1"/><line x1="220" y1="180.7" x2="220" y2="319.5" stroke="#555" stroke-width="1"/><line x1="297.8" y1="180.7" x2="297.8" y2="319.5" stroke="#555" stroke-width="1"/><line x1="199.3" y1="250.45" x2="224.2" y2="250.45" stroke="#353535" stroke-width="1"/><line x1="228.6" y1="250.45" x2="231.2" y2="250.45" stroke="#353535" stroke-width="1"/><line x1="235.9" y1="250.45" x2="281.8" y2="250.45" stroke="#353535" stroke-width="1"/><line x1="285.6" y1="250.45" x2="289.1" y2="250.45" stroke="#353535" stroke-width="1"/><line x1="293.4" y1="250.45" x2="318.8" y2="250.45" stroke="#353535" stroke-width="1"/><line x1="213.6" y1="57.5" x2="213.6" y2="89.5" stroke="#707070" stroke-width="1"/><line x1="304.2" y1="57.5" x2="304.2" y2="89.5" stroke="#707070" stroke-width="1"/><line x1="213.6" y1="62.4" x2="304.2" y2="62.4" stroke="#707070" stroke-width="1"/><polygon points="213.6,62.4 225.6,60.6 225.6,64.2" fill="#000"/><polygon points="304.2,62.4 292.2,64.2 292.2,60.6" fill="#000"/><polyline points="144.5,63.6 191.3,63.6 214,90.4" fill="none" stroke="#555" stroke-width="1.1"/><polygon points="214,90.4 204.32,82.22 207.52,79.5" fill="#000"/><polyline points="385.6,61.3 327.4,61.3 303.8,89.8" fill="none" stroke="#555" stroke-width="1.1"/><polygon points="303.8,89.8 310.15,78.83 313.39,81.51" fill="#000"/><polyline points="144.2,292.4 204.2,292.4 215,320.6" fill="none" stroke="#555" stroke-width="1.1"/><polygon points="215,320.6 208.57,309.68 212.49,308.18" fill="#000"/><polyline points="373.9,290.9 321.3,290.9 302.8,320" fill="none" stroke="#555" stroke-width="1.1"/><polygon points="302.8,320 307.73,308.32 311.28,310.58" fill="#000"/><g font-family="Liberation Serif" font-size="24" fill="#333" font-weight="normal"><text transform="translate(157.06,57.1) scale(0.45,1)" x="-8.33">R</text><text transform="translate(164.76,57.1) scale(0.66,1)" x="-6.33">1</text><text transform="translate(172.45,57.1) scale(0.39,1)" x="-9.4">m</text><text transform="translate(180.14,57.1) scale(0.66,1)" x="-3.36">i</text><text transform="translate(187.84,57.1) scale(0.62,1)" x="-6.09">n</text></g><g font-family="Liberation Serif" font-size="24" fill="#333" font-weight="normal"><text transform="translate(333.97,57.7) scale(0.45,1)" x="-8.33">R</text><text transform="translate(341.68,57.7) scale(0.66,1)" x="-6">0</text><text transform="translate(349.39,57.7) scale(0.66,1)" x="-3">.</text><text transform="translate(357.1,57.7) scale(0.66,1)" x="-6.11">3</text><text transform="translate(364.81,57.7) scale(0.39,1)" x="-9.4">m</text><text transform="translate(372.52,57.7) scale(0.66,1)" x="-3.36">i</text><text transform="translate(380.23,57.7) scale(0.63,1)" x="-6.09">n</text></g><g font-family="Liberation Serif" font-size="24" fill="#333" font-weight="normal"><text transform="translate(156.75,287.2) scale(0.45,1)" x="-8.33">R</text><text transform="translate(164.43,287.2) scale(0.66,1)" x="-6.33">1</text><text transform="translate(172.1,287.2) scale(0.39,1)" x="-9.4">m</text><text transform="translate(179.77,287.2) scale(0.66,1)" x="-3.36">i</text><text transform="translate(187.45,287.2) scale(0.62,1)" x="-6.09">n</text></g><g font-family="Liberation Serif" font-size="24" fill="#333" font-weight="normal"><text transform="translate(332.16,287.2) scale(0.45,1)" x="-8.33">R</text><text transform="translate(339.86,287.2) scale(0.66,1)" x="-6.33">1</text><text transform="translate(347.55,287.2) scale(0.39,1)" x="-9.4">m</text><text transform="translate(355.24,287.2) scale(0.66,1)" x="-3.36">i</text><text transform="translate(362.94,287.2) scale(0.62,1)" x="-6.09">n</text></g><g font-family="Liberation Serif" font-size="28" fill="#333" font-weight="normal"><text transform="translate(240.65,53) scale(0.66,1)" x="-7.39">1</text><text transform="translate(248.54,53) scale(0.59,1)" x="-7.18">6</text></g><g font-family="Liberation Serif" font-size="18.3" fill="#333" font-weight="normal"><text transform="translate(262.38,40.8) scale(0.62,1)" x="-4.58">0</text></g><g font-family="Liberation Serif" font-size="18.3" fill="#333" font-weight="normal"><text transform="translate(256.21,57.7) scale(0.66,1)" x="-5.17">−</text><text transform="translate(262.45,57.7) scale(0.66,1)" x="-4.58">0</text><text transform="translate(268.69,57.7) scale(0.66,1)" x="-2.29">.</text><text transform="translate(274.93,57.7) scale(0.66,1)" x="-4.83">1</text><text transform="translate(281.17,57.7) scale(0.66,1)" x="-4.75">5</text></g><circle cx="653.6" cy="250.2" r="160.4" fill="none" stroke="#353535" stroke-width="1"/><circle cx="653.6" cy="250.2" r="134.4" fill="none" stroke="#353535" stroke-width="1"/><circle cx="653.6" cy="250.2" r="126.6" fill="none" stroke="#353535" stroke-width="1"/><circle cx="653.6" cy="250.2" r="108.7" fill="none" stroke="#353535" stroke-width="1"/><circle cx="653.6" cy="250.2" r="101.0" fill="none" stroke="#353535" stroke-width="1"/><circle cx="653.6" cy="250.2" r="69.9" fill="none" stroke="#353535" stroke-width="1"/><line x1="625.98" y1="126.65" x2="629.34" y2="118.01" stroke="#353535" stroke-width="1"/><line x1="629.68" y1="152.07" x2="626.57" y2="144.92" stroke="#353535" stroke-width="1"/><line x1="681.22" y1="126.65" x2="677.86" y2="118.01" stroke="#353535" stroke-width="1"/><line x1="677.52" y1="152.07" x2="680.63" y2="144.92" stroke="#353535" stroke-width="1"/><line x1="703.88" y1="134.01" x2="711.67" y2="128.99" stroke="#353535" stroke-width="1"/><line x1="691.93" y1="156.75" x2="693.62" y2="149.13" stroke="#353535" stroke-width="1"/><line x1="748.56" y1="166.48" x2="750.93" y2="157.52" stroke="#353535" stroke-width="1"/><line x1="730.63" y1="184.87" x2="737.35" y2="180.91" stroke="#353535" stroke-width="1"/><line x1="762.57" y1="185.76" x2="771.82" y2="186.28" stroke="#353535" stroke-width="1"/><line x1="739.53" y1="197.13" x2="745.38" y2="191.96" stroke="#353535" stroke-width="1"/><line x1="779.64" y1="238.29" x2="786.82" y2="232.42" stroke="#353535" stroke-width="1"/><line x1="754.32" y1="242.63" x2="762.09" y2="243.37" stroke="#353535" stroke-width="1"/><line x1="779.64" y1="262.11" x2="786.82" y2="267.98" stroke="#353535" stroke-width="1"/><line x1="754.32" y1="257.77" x2="762.09" y2="257.03" stroke="#353535" stroke-width="1"/><line x1="762.57" y1="314.64" x2="771.82" y2="314.12" stroke="#353535" stroke-width="1"/><line x1="739.53" y1="303.27" x2="745.38" y2="308.44" stroke="#353535" stroke-width="1"/><line x1="748.56" y1="333.92" x2="750.93" y2="342.88" stroke="#353535" stroke-width="1"/><line x1="730.63" y1="315.53" x2="737.35" y2="319.49" stroke="#353535" stroke-width="1"/><line x1="703.88" y1="366.39" x2="711.67" y2="371.41" stroke="#353535" stroke-width="1"/><line x1="691.93" y1="343.65" x2="693.62" y2="351.27" stroke="#353535" stroke-width="1"/><line x1="681.22" y1="373.75" x2="677.86" y2="382.39" stroke="#353535" stroke-width="1"/><line x1="677.52" y1="348.33" x2="680.63" y2="355.48" stroke="#353535" stroke-width="1"/><line x1="625.98" y1="373.75" x2="629.34" y2="382.39" stroke="#353535" stroke-width="1"/><line x1="629.68" y1="348.33" x2="626.57" y2="355.48" stroke="#353535" stroke-width="1"/><line x1="603.32" y1="366.39" x2="595.53" y2="371.41" stroke="#353535" stroke-width="1"/><line x1="615.27" y1="343.65" x2="613.58" y2="351.27" stroke="#353535" stroke-width="1"/><line x1="558.64" y1="333.92" x2="556.27" y2="342.88" stroke="#353535" stroke-width="1"/><line x1="576.57" y1="315.53" x2="569.85" y2="319.49" stroke="#353535" stroke-width="1"/><line x1="544.63" y1="314.64" x2="535.38" y2="314.12" stroke="#353535" stroke-width="1"/><line x1="567.67" y1="303.27" x2="561.82" y2="308.44" stroke="#353535" stroke-width="1"/><line x1="527.56" y1="262.11" x2="520.38" y2="267.98" stroke="#353535" stroke-width="1"/><line x1="552.88" y1="257.77" x2="545.11" y2="257.03" stroke="#353535" stroke-width="1"/><line x1="527.56" y1="238.29" x2="520.38" y2="232.42" stroke="#353535" stroke-width="1"/><line x1="552.88" y1="242.63" x2="545.11" y2="243.37" stroke="#353535" stroke-width="1"/><line x1="544.63" y1="185.76" x2="535.38" y2="186.28" stroke="#353535" stroke-width="1"/><line x1="567.67" y1="197.13" x2="561.82" y2="191.96" stroke="#353535" stroke-width="1"/><line x1="558.64" y1="166.48" x2="556.27" y2="157.52" stroke="#353535" stroke-width="1"/><line x1="576.57" y1="184.87" x2="569.85" y2="180.91" stroke="#353535" stroke-width="1"/><line x1="603.32" y1="134.01" x2="595.53" y2="128.99" stroke="#353535" stroke-width="1"/><line x1="615.27" y1="156.75" x2="613.58" y2="149.13" stroke="#353535" stroke-width="1"/><line x1="475.1" y1="250.45" x2="509.7" y2="250.45" stroke="#353535" stroke-width="1"/><line x1="514.3" y1="250.45" x2="516.9" y2="250.45" stroke="#353535" stroke-width="1"/><line x1="521.3" y1="250.45" x2="567.1" y2="250.45" stroke="#353535" stroke-width="1"/><line x1="572" y1="250.45" x2="574.6" y2="250.45" stroke="#353535" stroke-width="1"/><line x1="579" y1="250.45" x2="624.8" y2="250.45" stroke="#353535" stroke-width="1"/><line x1="629.7" y1="250.45" x2="632.3" y2="250.45" stroke="#353535" stroke-width="1"/><line x1="636.7" y1="250.45" x2="682.5" y2="250.45" stroke="#353535" stroke-width="1"/><line x1="687.4" y1="250.45" x2="690" y2="250.45" stroke="#353535" stroke-width="1"/><line x1="694.4" y1="250.45" x2="740.2" y2="250.45" stroke="#353535" stroke-width="1"/><line x1="745.1" y1="250.45" x2="747.7" y2="250.45" stroke="#353535" stroke-width="1"/><line x1="752.1" y1="250.45" x2="797.9" y2="250.45" stroke="#353535" stroke-width="1"/><line x1="802.8" y1="250.45" x2="805.4" y2="250.45" stroke="#353535" stroke-width="1"/><line x1="809.8" y1="250.45" x2="844.1" y2="250.45" stroke="#353535" stroke-width="1"/><line x1="653.6" y1="70.8" x2="653.6" y2="95" stroke="#353535" stroke-width="1"/><line x1="653.6" y1="99.9" x2="653.6" y2="102.7" stroke="#353535" stroke-width="1"/><line x1="653.6" y1="107" x2="653.6" y2="153.3" stroke="#353535" stroke-width="1"/><line x1="653.6" y1="157.5" x2="653.6" y2="160.3" stroke="#353535" stroke-width="1"/><line x1="653.6" y1="164.6" x2="653.6" y2="210.9" stroke="#353535" stroke-width="1"/><line x1="653.6" y1="215.1" x2="653.6" y2="217.9" stroke="#353535" stroke-width="1"/><line x1="653.6" y1="222.2" x2="653.6" y2="268.5" stroke="#353535" stroke-width="1"/><line x1="653.6" y1="272.7" x2="653.6" y2="275.5" stroke="#353535" stroke-width="1"/><line x1="653.6" y1="279.8" x2="653.6" y2="326.1" stroke="#353535" stroke-width="1"/><line x1="653.6" y1="330.3" x2="653.6" y2="333.1" stroke="#353535" stroke-width="1"/><line x1="653.6" y1="337.4" x2="653.6" y2="383.7" stroke="#353535" stroke-width="1"/><line x1="653.6" y1="387.9" x2="653.6" y2="390.7" stroke="#353535" stroke-width="1"/><line x1="653.6" y1="395" x2="653.6" y2="420" stroke="#353535" stroke-width="1"/><line x1="493.5" y1="57" x2="493.5" y2="250.2" stroke="#707070" stroke-width="1"/><line x1="814.4" y1="57" x2="814.4" y2="250.2" stroke="#707070" stroke-width="1"/><line x1="493.5" y1="61.8" x2="814.4" y2="61.8" stroke="#707070" stroke-width="1"/><polygon points="493.5,61.8 507.1,59.9 507.1,63.7" fill="#000"/><polygon points="814.4,61.8 800.8,63.7 800.8,59.9" fill="#000"/><path fill-rule="evenodd" fill="#333" d="M617.4,44.4 a4.3,6.5 0 1,0 8.6,0 a4.3,6.5 0 1,0 -8.6,0 Z M619.6,44.4 a2.1,5.4 0 1,0 4.2,0 a2.1,5.4 0 1,0 -4.2,0 Z"/><line x1="619.3" y1="53.6" x2="624.1" y2="35.3" stroke="#2a2a2a" stroke-width="1.5"/><g font-family="Liberation Serif" font-size="27" fill="#333" font-weight="normal"><text transform="translate(632.64,53.3) scale(0.66,1)" x="-7.13">1</text><text transform="translate(640.82,53.3) scale(0.64,1)" x="-6.75">0</text><text transform="translate(649.01,53.3) scale(0.66,1)" x="-7.01">5</text></g><g font-family="Liberation Serif" font-size="17" fill="#333" font-weight="normal"><text transform="translate(663.14,42.3) scale(0.65,1)" x="-4.25">0</text></g><g font-family="Liberation Serif" font-size="17" fill="#333" font-weight="normal"><text transform="translate(656.41,58.7) scale(0.66,1)" x="-4.8">−</text><text transform="translate(662.69,58.7) scale(0.66,1)" x="-4.25">0</text><text transform="translate(668.98,58.7) scale(0.66,1)" x="-2.12">.</text><text transform="translate(675.26,58.7) scale(0.66,1)" x="-4.25">0</text><text transform="translate(681.54,58.7) scale(0.66,1)" x="-4.25">0</text><text transform="translate(687.82,58.7) scale(0.66,1)" x="-4.25">8</text></g><line x1="584.2" y1="250.2" x2="584.2" y2="467.2" stroke="#707070" stroke-width="1"/><line x1="723.2" y1="250.2" x2="723.2" y2="467.2" stroke="#707070" stroke-width="1"/><line x1="584.2" y1="462.6" x2="723.2" y2="462.6" stroke="#707070" stroke-width="1"/><polygon points="584.2,462.6 597.5,460.7 597.5,464.5" fill="#000"/><polygon points="723.2,462.6 709.9,464.5 709.9,460.7" fill="#000"/><path fill-rule="evenodd" fill="#333" d="M621.3,445.6 a4.3,6.5 0 1,0 8.6,0 a4.3,6.5 0 1,0 -8.6,0 Z M623.5,445.6 a2.1,5.4 0 1,0 4.2,0 a2.1,5.4 0 1,0 -4.2,0 Z"/><line x1="623.6" y1="454.4" x2="628.2" y2="436.6" stroke="#2a2a2a" stroke-width="1.5"/><g font-family="Liberation Serif" font-size="27" fill="#333" font-weight="normal"><text transform="translate(636.41,454.2) scale(0.66,1)" x="-7.25">7</text><text transform="translate(644.71,454.2) scale(0.66,1)" x="-7.01">5</text></g><g font-family="Liberation Serif" font-size="17" fill="#333" font-weight="normal"><text transform="translate(658.58,442.3) scale(0.66,1)" x="-4.25">0</text></g><g font-family="Liberation Serif" font-size="17" fill="#333" font-weight="normal"><text transform="translate(651.71,459.6) scale(0.66,1)" x="-4.8">−</text><text transform="translate(657.95,459.6) scale(0.66,1)" x="-4.25">0</text><text transform="translate(664.2,459.6) scale(0.66,1)" x="-2.12">.</text><text transform="translate(670.44,459.6) scale(0.66,1)" x="-4.25">0</text><text transform="translate(676.68,459.6) scale(0.66,1)" x="-4.25">0</text><text transform="translate(682.93,459.6) scale(0.66,1)" x="-4.57">7</text></g><line x1="563.3" y1="493.5" x2="899" y2="493.5" stroke="#4a4a4a" stroke-width="1.05"/><line x1="563.3" y1="493.5" x2="563.3" y2="629.2" stroke="#6e6e6e" stroke-width="1.3"/><line x1="563.3" y1="548.7" x2="899" y2="548.7" stroke="#7a7a7a" stroke-width="1.3"/><line x1="738.6" y1="548.7" x2="738.6" y2="629.2" stroke="#666" stroke-width="1.1"/><path fill-rule="evenodd" d="M584,500.4 a15.7,15.55 0 1,0 0.01,0 Z M584,506 a9.6,9.8 0 1,0 0.01,0 Z" fill="#000"/><line x1="583.5" y1="515" x2="599" y2="531.3" stroke="#000" stroke-width="5.2"/><rect x="604.4" y="500.6" width="6.2" height="30.4" fill="#000"/><path fill-rule="evenodd" d="M616,500.6 H627 A5.9,5.9 0 0 1 632.9,506.5 V512 A6,6 0 0 1 626.9,518 H616 Z M620.9,505 H623.1 A4,4 0 0 1 623.1,513 H620.9 Z" fill="#000"/><path fill-rule="evenodd" d="M623.5,513.3 H626 A8.7,8.85 0 0 1 626,531 H623.5 V526 H626 A3.2,3.25 0 0 0 626,519.5 H623.5 Z" fill="#000"/><rect x="616" y="513" width="11" height="5" fill="#000"/><path fill-rule="evenodd" d="M639.4,500.6 H652 A8.3,8.7 0 0 1 652,518 H645.5 V531 H639.4 Z M645.5,505.8 H651.5 A3.4,3.4 0 0 1 651.5,512.6 H645.5 Z" fill="#000"/><polygon points="648.6,517 656.8,517 661,531 653.1,531" fill="#000"/><circle cx="670" cy="505.3" r="3.9" fill="none" stroke="#000" stroke-width="0.9"/><text x="668.1" y="507.4" font-family="Liberation Sans" font-size="5.5" font-weight="bold" fill="#000">R</text><g font-family="Liberation Sans" font-size="9.7" fill="#000" stroke="#000" stroke-width="0.7"><text transform="translate(595.15,543.6) scale(0.83,1)" x="-3.42">E</text><text transform="translate(603.3,543.6) scale(1.03,1)" x="-3.23">A</text><text transform="translate(611.5,543.6) scale(0.88,1)" x="-3.68">R</text><text transform="translate(618.1,543.6) scale(1,1)" x="-1.35">I</text><text transform="translate(624.5,543.6) scale(1.01,1)" x="-3.5">N</text><text transform="translate(633.65,543.6) scale(0.94,1)" x="-3.65">G</text><text transform="translate(641.8,543.6) scale(0.9,1)" x="-3.23">S</text></g><path d="M585,537.6 H588.6 A1.375,1.375 0 0 1 588.6,540.35 H586.3 M588.6,540.35 A1.375,1.375 0 0 1 588.6,543.1 H585" fill="none" stroke="#000" stroke-width="1.4"/><g font-family="Liberation Serif" font-size="17" fill="#333" font-weight="normal"><text transform="translate(714.8,515.6) scale(0.59,1)" x="-4.93">L</text><text transform="translate(720.56,515.6) scale(0.45,1)" x="-6.14">U</text><text transform="translate(726.33,515.6) scale(0.48,1)" x="-6.14">O</text><text transform="translate(732.1,515.6) scale(0.45,1)" x="-6.02">Y</text><text transform="translate(737.87,515.6) scale(0.43,1)" x="-6.16">A</text><text transform="translate(743.64,515.6) scale(0.46,1)" x="-6.19">N</text><text transform="translate(749.4,515.6) scale(0.47,1)" x="-6.22">G</text><text transform="translate(760.94,515.6) scale(0.46,1)" x="-6.34">Q</text><text transform="translate(766.71,515.6) scale(0.66,1)" x="-2.84">I</text><text transform="translate(772.48,515.6) scale(0.52,1)" x="-5.5">B</text><text transform="translate(778.25,515.6) scale(0.48,1)" x="-5.9">R</text><text transform="translate(789.78,515.6) scale(0.52,1)" x="-5.5">B</text><text transform="translate(795.55,515.6) scale(0.57,1)" x="-5.01">E</text><text transform="translate(801.32,515.6) scale(0.43,1)" x="-6.16">A</text><text transform="translate(807.09,515.6) scale(0.48,1)" x="-5.9">R</text><text transform="translate(812.85,515.6) scale(0.66,1)" x="-2.84">I</text><text transform="translate(818.62,515.6) scale(0.46,1)" x="-6.19">N</text><text transform="translate(824.39,515.6) scale(0.47,1)" x="-6.22">G</text><text transform="translate(835.93,515.6) scale(0.53,1)" x="-5.55">C</text><text transform="translate(841.7,515.6) scale(0.48,1)" x="-6.14">O</text><text transform="translate(847.46,515.6) scale(0.66,1)" x="-2.12">.</text><text transform="translate(853.23,515.6) scale(0.66,1)" x="-1.91">,</text><text transform="translate(864.77,515.6) scale(0.59,1)" x="-4.93">L</text><text transform="translate(870.54,515.6) scale(0.53,1)" x="-5.2">T</text><text transform="translate(876.3,515.6) scale(0.47,1)" x="-6.04">D</text></g><g font-family="Liberation Serif" font-size="17" fill="#333" font-weight="normal"><text transform="translate(731.5,538.6) scale(0.64,1)" x="-4.22">h</text><text transform="translate(737.29,538.6) scale(0.66,1)" x="-2.39">t</text><text transform="translate(743.07,538.6) scale(0.66,1)" x="-2.39">t</text><text transform="translate(748.85,538.6) scale(0.66,1)" x="-4.05">p</text><text transform="translate(754.63,538.6) scale(0.66,1)" x="-2.34">:</text><text transform="translate(760.42,538.6) scale(0.66,1)" x="-2.36">/</text><text transform="translate(766.2,538.6) scale(0.66,1)" x="-2.36">/</text><text transform="translate(771.98,538.6) scale(0.43,1)" x="-6.11">w</text><text transform="translate(777.77,538.6) scale(0.43,1)" x="-6.11">w</text><text transform="translate(783.55,538.6) scale(0.43,1)" x="-6.11">w</text><text transform="translate(789.33,538.6) scale(0.66,1)" x="-2.12">.</text><text transform="translate(795.12,538.6) scale(0.46,1)" x="-6.34">Q</text><text transform="translate(800.9,538.6) scale(0.66,1)" x="-2.84">I</text><text transform="translate(806.68,538.6) scale(0.52,1)" x="-5.5">B</text><text transform="translate(812.47,538.6) scale(0.48,1)" x="-5.9">R</text><text transform="translate(818.25,538.6) scale(0.66,1)" x="-2.12">.</text><text transform="translate(824.03,538.6) scale(0.66,1)" x="-3.83">c</text><text transform="translate(829.81,538.6) scale(0.66,1)" x="-4.25">o</text><text transform="translate(835.6,538.6) scale(0.41,1)" x="-6.66">m</text></g><g font-family="Liberation Serif" font-size="23.6" fill="#333" font-weight="normal"><text transform="translate(589.25,582) scale(0.44,1)" x="-8.55">A</text><text transform="translate(597.38,582) scale(0.46,1)" x="-8.59">N</text><text transform="translate(605.5,582) scale(0.48,1)" x="-8.64">G</text><text transform="translate(613.62,582) scale(0.46,1)" x="-8.52">U</text><text transform="translate(621.74,582) scale(0.59,1)" x="-6.84">L</text><text transform="translate(629.86,582) scale(0.44,1)" x="-8.55">A</text><text transform="translate(637.98,582) scale(0.49,1)" x="-8.19">R</text><text transform="translate(654.22,582) scale(0.54,1)" x="-7.7">C</text><text transform="translate(662.34,582) scale(0.48,1)" x="-8.52">O</text><text transform="translate(670.46,582) scale(0.46,1)" x="-8.59">N</text><text transform="translate(678.58,582) scale(0.54,1)" x="-7.23">T</text><text transform="translate(686.7,582) scale(0.44,1)" x="-8.55">A</text><text transform="translate(694.82,582) scale(0.54,1)" x="-7.7">C</text><text transform="translate(702.95,582) scale(0.54,1)" x="-7.23">T</text></g><g font-family="Liberation Serif" font-size="23.8" fill="#333" font-weight="normal"><text transform="translate(600.47,612.1) scale(0.52,1)" x="-7.7">B</text><text transform="translate(608.63,612.1) scale(0.44,1)" x="-8.62">A</text><text transform="translate(616.79,612.1) scale(0.59,1)" x="-6.9">L</text><text transform="translate(624.95,612.1) scale(0.59,1)" x="-6.9">L</text><text transform="translate(641.27,612.1) scale(0.52,1)" x="-7.7">B</text><text transform="translate(649.43,612.1) scale(0.58,1)" x="-7.02">E</text><text transform="translate(657.59,612.1) scale(0.44,1)" x="-8.62">A</text><text transform="translate(665.75,612.1) scale(0.48,1)" x="-8.26">R</text><text transform="translate(673.91,612.1) scale(0.66,1)" x="-3.97">I</text><text transform="translate(682.07,612.1) scale(0.46,1)" x="-8.66">N</text><text transform="translate(690.23,612.1) scale(0.47,1)" x="-8.71">G</text></g><g font-family="Liberation Serif" font-size="24" fill="#333" font-weight="normal"><text transform="translate(777.07,579) scale(0.63,1)" x="-6.54">P</text><text transform="translate(785.22,579) scale(0.43,1)" x="-8.7">A</text><text transform="translate(793.38,579) scale(0.48,1)" x="-8.33">R</text><text transform="translate(801.53,579) scale(0.53,1)" x="-7.35">T</text></g><g font-family="Liberation Serif" font-size="24" fill="#333" font-weight="normal"><text transform="translate(822.43,580.5) scale(0.45,1)" x="-8.74">N</text><text transform="translate(830.5,580.5) scale(0.44,1)" x="-8.67">U</text><text transform="translate(838.57,580.5) scale(0.36,1)" x="-10.66">M</text><text transform="translate(846.63,580.5) scale(0.51,1)" x="-7.76">B</text><text transform="translate(854.7,580.5) scale(0.57,1)" x="-7.08">E</text><text transform="translate(862.77,580.5) scale(0.48,1)" x="-8.33">R</text></g><g font-family="Liberation Serif" font-size="24" fill="#333" font-weight="normal"><text transform="translate(763.41,613.9) scale(0.66,1)" x="-6.45">7</text><text transform="translate(771.12,613.9) scale(0.66,1)" x="-6.33">1</text><text transform="translate(778.84,613.9) scale(0.66,1)" x="-5.89">9</text><text transform="translate(786.55,613.9) scale(0.66,1)" x="-6.33">1</text><text transform="translate(794.27,613.9) scale(0.66,1)" x="-6.23">5</text><text transform="translate(801.98,613.9) scale(0.51,1)" x="-7.83">C</text><text transform="translate(809.7,613.9) scale(0.54,1)" x="-7.08">E</text><text transform="translate(817.41,613.9) scale(0.66,1)" x="-3.33">/</text><text transform="translate(825.13,613.9) scale(0.59,1)" x="-6.54">P</text><text transform="translate(832.84,613.9) scale(0.62,1)" x="-6.05">4</text><text transform="translate(840.56,613.9) scale(0.41,1)" x="-8.7">A</text><text transform="translate(848.27,613.9) scale(0.44,1)" x="-8.66">H</text><text transform="translate(855.98,613.9) scale(0.66,1)" x="-6.33">1</text><text transform="translate(863.7,613.9) scale(0.5,1)" x="-7.35">T</text><text transform="translate(871.41,613.9) scale(0.49,1)" x="-7.76">B</text><text transform="translate(879.13,613.9) scale(0.5,1)" x="-7.35">T</text></g></svg></body></html>
